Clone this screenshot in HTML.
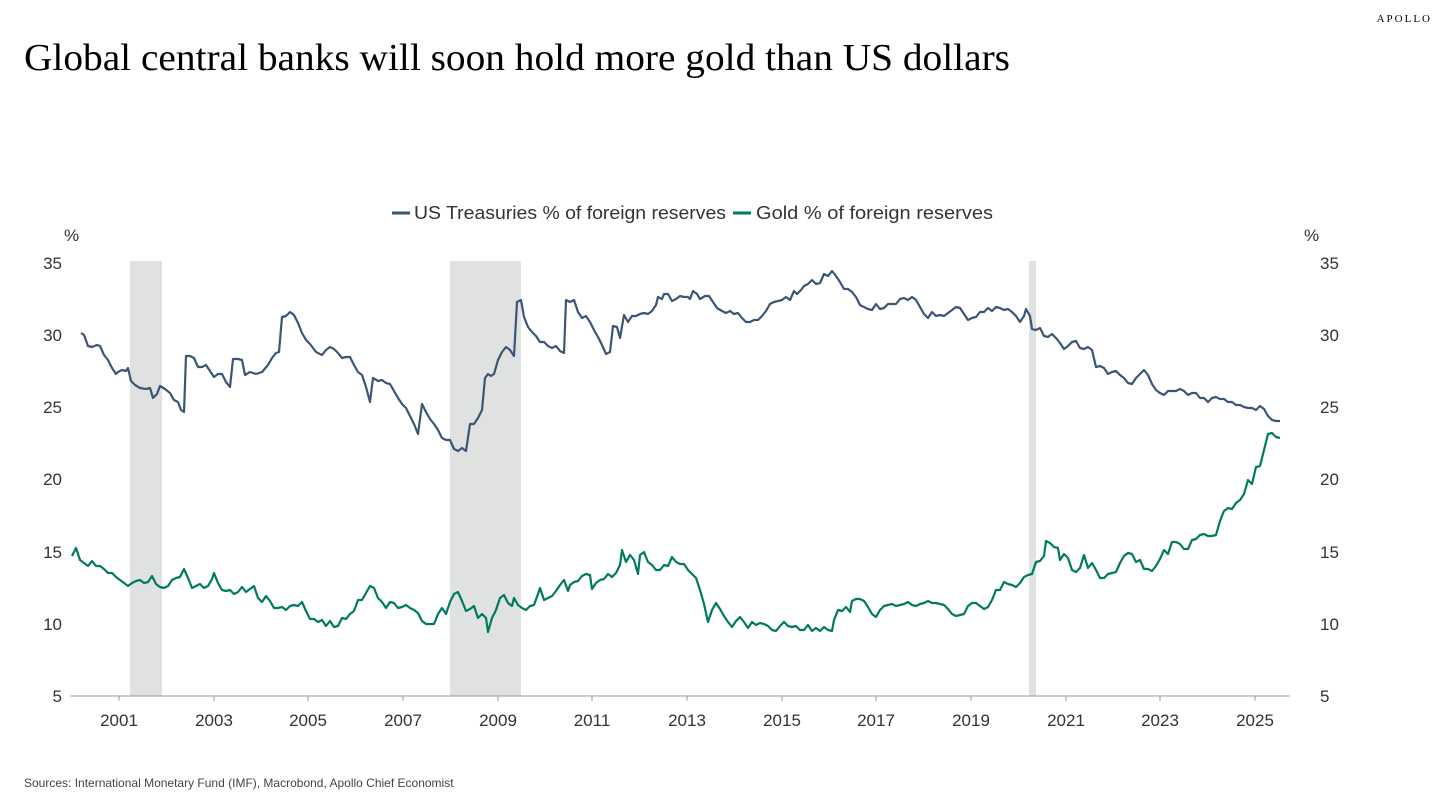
<!DOCTYPE html>
<html><head><meta charset="utf-8"><style>
html,body{margin:0;padding:0;background:#fff;width:1439px;height:801px;overflow:hidden}
svg{display:block}
</style></head><body>
<svg width="1439" height="801" viewBox="0 0 1439 801" xmlns="http://www.w3.org/2000/svg">
<text x="1432" y="22" text-anchor="end" font-family="Liberation Serif, serif" font-size="11" letter-spacing="2">APOLLO</text>
<text x="24" y="70" font-family="Liberation Serif, serif" font-size="38" fill="#000" textLength="986" lengthAdjust="spacingAndGlyphs">Global central banks will soon hold more gold than US dollars</text>
<g font-family="Liberation Sans, sans-serif" font-size="18" fill="#333">
<line x1="392" y1="213" x2="410" y2="213" stroke="#3b5675" stroke-width="3"/>
<text x="414" y="219" textLength="312" lengthAdjust="spacingAndGlyphs">US Treasuries % of foreign reserves</text>
<line x1="733" y1="213" x2="751" y2="213" stroke="#007a5e" stroke-width="3"/>
<text x="756" y="219" textLength="237" lengthAdjust="spacingAndGlyphs">Gold % of foreign reserves</text>
</g>
<g font-family="Liberation Sans, sans-serif" font-size="17" fill="#333">
<text x="64" y="241">%</text><text x="1304" y="241">%</text>
</g>
<g fill="#e0e1e1">
<rect x="130" y="261" width="32" height="435"/>
<rect x="450" y="261" width="71" height="435"/>
<rect x="1029" y="261" width="7" height="435"/>
</g>
<line x1="70" y1="696" x2="1290" y2="696" stroke="#999" stroke-width="1"/>
<g font-family="Liberation Sans, sans-serif" font-size="17" fill="#333">
<text x="62" y="269" text-anchor="end">35</text><text x="62" y="341" text-anchor="end">30</text><text x="62" y="413" text-anchor="end">25</text><text x="62" y="485" text-anchor="end">20</text><text x="62" y="558" text-anchor="end">15</text><text x="62" y="630" text-anchor="end">10</text><text x="62" y="702" text-anchor="end">5</text>
<text x="1320" y="269">35</text><text x="1320" y="341">30</text><text x="1320" y="413">25</text><text x="1320" y="485">20</text><text x="1320" y="558">15</text><text x="1320" y="630">10</text><text x="1320" y="702">5</text>
<text x="119" y="726" text-anchor="middle">2001</text><text x="214" y="726" text-anchor="middle">2003</text><text x="308" y="726" text-anchor="middle">2005</text><text x="403" y="726" text-anchor="middle">2007</text><text x="498" y="726" text-anchor="middle">2009</text><text x="592" y="726" text-anchor="middle">2011</text><text x="687" y="726" text-anchor="middle">2013</text><text x="782" y="726" text-anchor="middle">2015</text><text x="876" y="726" text-anchor="middle">2017</text><text x="971" y="726" text-anchor="middle">2019</text><text x="1066" y="726" text-anchor="middle">2021</text><text x="1160" y="726" text-anchor="middle">2023</text><text x="1255" y="726" text-anchor="middle">2025</text>
</g>
<g stroke="#999"><line x1="119" y1="696" x2="119" y2="701"/><line x1="214" y1="696" x2="214" y2="701"/><line x1="308" y1="696" x2="308" y2="701"/><line x1="403" y1="696" x2="403" y2="701"/><line x1="498" y1="696" x2="498" y2="701"/><line x1="592" y1="696" x2="592" y2="701"/><line x1="687" y1="696" x2="687" y2="701"/><line x1="782" y1="696" x2="782" y2="701"/><line x1="876" y1="696" x2="876" y2="701"/><line x1="971" y1="696" x2="971" y2="701"/><line x1="1066" y1="696" x2="1066" y2="701"/><line x1="1160" y1="696" x2="1160" y2="701"/><line x1="1255" y1="696" x2="1255" y2="701"/></g>
<polyline fill="none" stroke="#3b5675" stroke-width="2.2" stroke-linejoin="round" points="81,333 84,335 88,346 92,347 97,345 100,346 104,355 108,360 112,368 116,374 118,372 122,370 126,371 128,368 131,381 135,385 140,388 146,389 150,388 153,398 157,394 160,386 165,389 170,393 174,400 178,402 181,410 184,412 186,356 190,356 194,358 198,367 202,367 206,365 210,371 214,377 218,374 222,374 226,382 230,387 233,359 238,359 242,360 245,375 250,372 256,374 262,372 268,365 272,358 276,353 279,352 282,317 286,316 290,312 294,315 298,323 302,333 306,340 310,344 316,352 322,355 326,350 330,347 334,349 338,353 342,358 346,357 350,357 354,365 358,372 362,375 366,387 370,402 373,378 378,381 382,380 386,383 390,384 394,391 398,398 402,404 406,408 410,416 414,424 418,434 422,404 426,412 430,419 434,424 438,430 442,438 446,440 450,440 454,449 458,451 462,448 466,451 470,424 474,424 478,418 482,410 485,378 488,374 491,376 494,374 498,360 502,352 506,347 510,350 514,356 517,302 521,300 524,317 528,327 532,332 536,336 540,342 544,342 548,346 552,348 556,346 560,351 564,353 566,300 570,302 574,300 578,312 582,318 586,316 590,322 594,330 598,337 602,345 606,354 610,352 613,326 617,327 620,338 624,315 628,322 632,316 636,316 640,314 644,313 648,314 652,311 656,305 658,297 662,299 664,294 668,294 672,301 676,299 680,296 684,297 688,297 690,299 693,291 697,294 700,299 705,296 709,296 713,302 717,308 722,311 726,313 730,311 734,314 738,313 742,318 746,322 750,322 754,320 758,320 762,316 766,311 770,304 774,302 778,301 782,300 786,297 790,300 794,291 797,294 801,290 804,286 808,284 812,280 816,284 820,283 824,274 828,276 832,271 836,276 840,282 844,289 848,289 852,292 856,297 860,305 864,307 868,309 872,310 876,304 880,309 884,308 888,304 892,304 896,304 900,299 904,298 908,300 912,297 916,300 920,307 924,314 928,318 932,312 936,316 940,315 944,316 948,313 952,310 956,307 960,308 964,314 968,320 972,318 976,317 980,312 984,312 988,308 992,311 996,307 1000,308 1004,310 1008,309 1012,312 1016,316 1020,322 1024,316 1026,309 1030,316 1032,329 1036,330 1040,328 1044,336 1048,337 1052,334 1056,338 1060,343 1064,349 1068,346 1072,342 1076,341 1080,348 1084,349 1088,347 1092,350 1096,367 1100,366 1104,368 1108,374 1112,372 1116,371 1120,375 1124,378 1128,383 1132,384 1136,378 1140,374 1144,370 1148,375 1152,384 1156,390 1160,393 1164,395 1168,391 1172,391 1176,391 1180,389 1184,391 1188,395 1192,393 1196,393 1200,398 1204,398 1208,402 1212,398 1216,397 1220,399 1224,399 1228,402 1232,402 1236,405 1240,405 1244,407 1248,408 1252,408 1256,410 1260,406 1264,409 1268,416 1272,420 1276,421 1280,421"/>
<polyline fill="none" stroke="#007a5e" stroke-width="2.2" stroke-linejoin="round" points="72,556 76,548 80,560 84,563 88,566 92,561 96,566 100,566 104,569 108,573 112,573 116,577 120,580 124,583 128,586 132,583 136,581 140,580 144,583 148,582 152,576 156,584 160,587 164,588 168,586 172,580 176,578 180,577 184,569 188,578 192,588 196,586 200,584 204,588 208,586 212,579 214,573 218,583 222,590 226,591 230,590 234,594 238,592 242,587 246,592 250,589 254,586 258,598 262,602 266,596 270,601 274,608 278,608 282,607 286,610 290,606 294,605 298,606 302,602 306,611 310,619 314,619 318,622 322,620 326,626 330,621 334,627 338,626 342,618 346,619 350,614 354,611 358,600 362,600 366,593 370,586 374,588 378,598 382,602 386,608 390,602 394,603 398,608 402,607 406,605 410,608 414,610 418,613 422,621 426,624 430,624 434,624 438,614 442,608 446,614 450,602 454,594 458,592 462,601 466,611 470,609 474,606 478,618 482,614 486,618 488,632 492,618 496,610 500,598 504,595 508,603 512,606 514,598 518,605 522,608 526,610 530,606 534,605 538,594 540,588 544,600 548,598 552,596 556,591 560,585 564,580 568,591 570,585 574,582 578,581 582,576 586,574 590,575 592,589 596,583 600,580 604,579 608,574 612,577 616,573 620,565 622,550 626,562 630,555 634,560 638,574 640,555 644,552 648,562 652,565 656,570 660,570 664,565 668,566 672,557 676,562 680,564 684,564 688,570 692,574 696,578 700,590 704,604 708,622 712,610 716,603 720,609 724,616 728,622 732,627 736,621 740,617 744,622 748,628 752,622 756,625 760,623 764,624 768,626 772,630 776,631 780,626 784,622 788,626 792,627 796,626 800,630 804,630 808,625 812,631 816,628 820,631 824,627 828,630 832,631 834,620 838,610 842,611 846,607 850,612 852,601 856,599 860,599 864,601 868,607 872,614 876,617 880,610 884,606 888,605 892,604 896,606 900,605 904,604 908,602 912,605 916,606 920,604 924,603 928,601 932,603 936,603 940,604 944,605 948,609 952,614 956,616 960,615 964,614 968,606 972,603 976,603 980,606 984,609 988,607 992,600 996,590 1000,590 1004,582 1008,584 1012,585 1016,587 1020,583 1024,577 1028,575 1032,574 1036,562 1040,561 1044,556 1046,541 1050,543 1054,547 1058,548 1060,560 1064,554 1068,558 1072,570 1076,572 1080,568 1084,555 1088,568 1092,563 1096,570 1100,578 1104,578 1108,574 1112,573 1116,572 1120,563 1124,556 1128,553 1132,554 1136,562 1140,560 1144,569 1148,569 1152,571 1156,566 1160,559 1164,550 1168,554 1172,542 1176,542 1180,544 1184,549 1188,549 1192,540 1196,539 1200,535 1204,534 1208,536 1212,536 1216,535 1220,521 1224,511 1228,508 1232,509 1236,503 1240,500 1244,494 1248,480 1252,484 1256,467 1260,466 1264,450 1268,434 1272,433 1276,437 1280,438"/>
<text x="24" y="787" font-family="Liberation Sans, sans-serif" font-size="12" fill="#444">Sources: International Monetary Fund (IMF), Macrobond, Apollo Chief Economist</text>
</svg>
</body></html>
